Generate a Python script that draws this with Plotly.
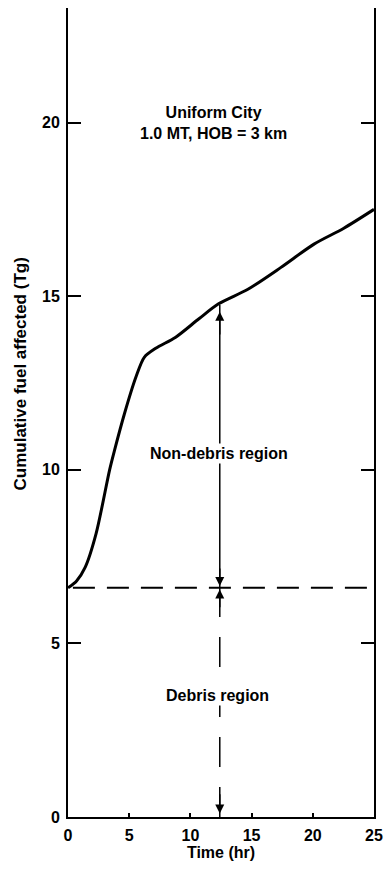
import plotly.graph_objects as go

# ---- data ----
time_hr = [0, 0.7, 1.4, 2.3, 3.4, 3.8, 4.6, 5.55, 6.23, 7.17, 8.8, 10.7, 12.3, 14.7, 17.4, 20.1, 22.5, 25]
fuel_tg = [6.6, 6.8, 7.19, 8.17, 10.0, 10.56, 11.6, 12.67, 13.24, 13.5, 13.82, 14.35, 14.78, 15.2, 15.83, 16.5, 16.95, 17.5]

debris_level = 6.6
marker_time = 12.4
marker_top = 14.75

x_ticks = [0, 5, 10, 15, 20, 25]
y_ticks = [0, 5, 10, 15, 20]

FONT = "Liberation Sans"

fig = go.Figure()

# main curve
fig.add_trace(go.Scatter(x=time_hr, y=fuel_tg, mode="lines",
                         line=dict(color="black", width=3, shape="spline", smoothing=0.8),
                         hoverinfo="skip", showlegend=False))

# horizontal dashed debris boundary
fig.add_trace(go.Scatter(x=[0.4, 24.7], y=[debris_level, debris_level], mode="lines",
                         line=dict(color="black", width=2, dash="22px,12px"),
                         hoverinfo="skip", showlegend=False))

# vertical solid line (non-debris)
fig.add_trace(go.Scatter(x=[marker_time, marker_time], y=[debris_level, marker_top], mode="lines",
                         line=dict(color="black", width=1.5),
                         hoverinfo="skip", showlegend=False))
# vertical dashed line (debris)
fig.add_trace(go.Scatter(x=[marker_time, marker_time], y=[0, debris_level], mode="lines",
                         line=dict(color="black", width=1.5, dash="30px,20px"),
                         hoverinfo="skip", showlegend=False))

# arrowheads
arrows = [
    (marker_top - 0.2, marker_top - 0.9),
    (debris_level + 0.05, debris_level + 0.6),
    (debris_level - 0.05, debris_level - 0.6),
    (0.1, 0.7),
]
for head, tail in arrows:
    fig.add_annotation(x=marker_time, y=head, ax=marker_time, ay=tail,
                       xref="x", yref="y", axref="x", ayref="y",
                       showarrow=True, arrowhead=2, arrowsize=1.2, arrowwidth=1.5,
                       arrowcolor="black", text="")

# text labels
fig.add_annotation(x=11.9, y=20.0, xref="x", yref="y", showarrow=False,
                   text="Uniform City<br>1.0 MT, HOB = 3 km",
                   font=dict(family=FONT, size=16, color="black", weight="bold"), align="center")
fig.add_annotation(x=12.3, y=10.47, xref="x", yref="y", showarrow=False,
                   text="Non-debris region", bgcolor="white",
                   font=dict(family=FONT, size=16, color="black", weight="bold"))
fig.add_annotation(x=12.2, y=3.5, xref="x", yref="y", showarrow=False,
                   text="Debris region", bgcolor="white",
                   font=dict(family=FONT, size=16, color="black", weight="bold"))

# y-axis title as annotation
fig.add_annotation(x=-0.152, y=0.5476, xref="paper", yref="paper", showarrow=False,
                   xanchor="center", yanchor="middle",
                   text="Cumulative fuel affected (Tg)", textangle=-90,
                   font=dict(family=FONT, size=17, color="black", weight="bold"))

fig.update_layout(
    width=384, height=869,
    margin=dict(l=68, r=10, t=8, b=52, autoexpand=False),
    paper_bgcolor="white", plot_bgcolor="white",
    font=dict(family=FONT, color="black"),
    xaxis=dict(range=[0, 25], tickvals=x_ticks, ticks="inside", ticklen=4, tickwidth=1.5,
               tickcolor="black", showline=True, linecolor="black", linewidth=2,
               showgrid=False, zeroline=False, ticklabelstandoff=3, automargin=False,
               ticklabeloverflow="allow",
               tickfont=dict(family=FONT, size=16, weight="bold"),
               title=dict(text="Time (hr)", font=dict(family=FONT, size=16, weight="bold"), standoff=2)),
    yaxis=dict(range=[0, 23.3], tickvals=y_ticks, ticks="inside", ticklen=13, tickwidth=1.5,
               tickcolor="black", showline=True, linecolor="black", linewidth=2,
               mirror="ticks", showgrid=False, zeroline=False, ticklabelstandoff=3, automargin=False,
               ticklabeloverflow="allow",
               tickfont=dict(family=FONT, size=16, weight="bold")),
)

fig.write_html("out.html", post_script="document.body.style.overflow='hidden';document.body.style.margin='0';")
